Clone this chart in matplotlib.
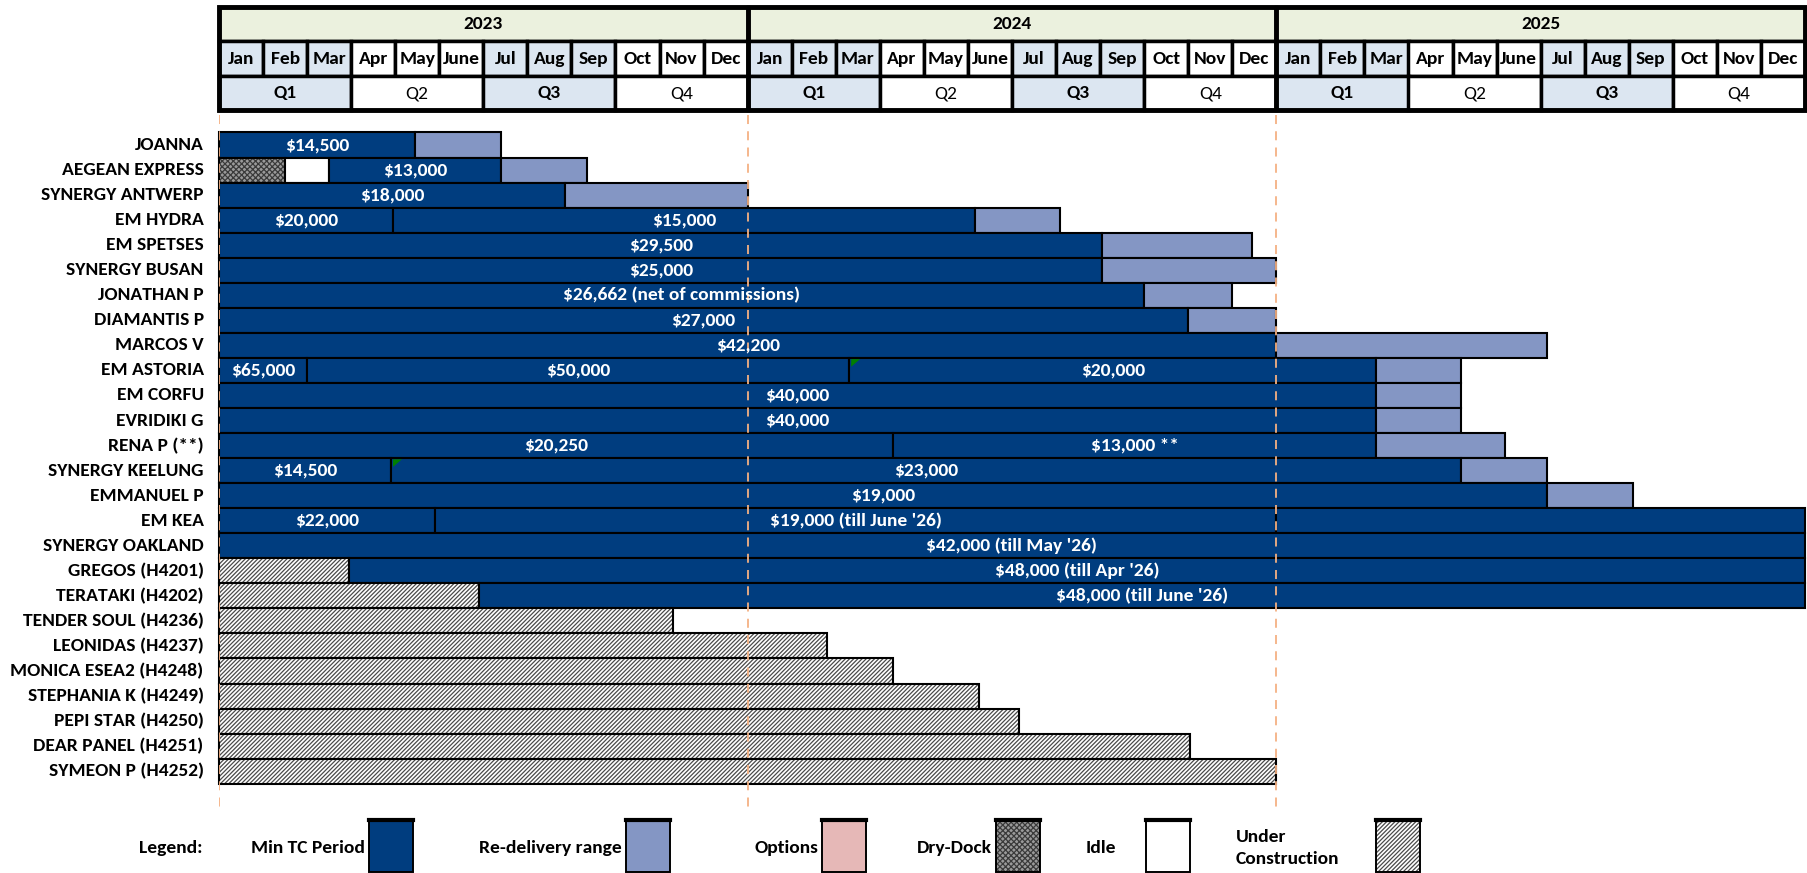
import matplotlib
matplotlib.use('Agg')
import matplotlib.pyplot as plt
from matplotlib.patches import Rectangle, Polygon

plt.rcParams['font.family'] = ['Carlito', 'Liberation Sans', 'DejaVu Sans']
plt.rcParams['hatch.linewidth'] = 0.9

# fleet employment, months counted from Jan 2023
ships = ["JOANNA", "AEGEAN EXPRESS", "SYNERGY ANTWERP", "EM HYDRA", "EM SPETSES",
         "SYNERGY BUSAN", "JONATHAN P", "DIAMANTIS P", "MARCOS V", "EM ASTORIA",
         "EM CORFU", "EVRIDIKI G", "RENA P (**)", "SYNERGY KEELUNG", "EMMANUEL P",
         "EM KEA", "SYNERGY OAKLAND", "GREGOS (H4201)", "TERATAKI (H4202)",
         "TENDER SOUL (H4236)", "LEONIDAS (H4237)", "MONICA ESEA2 (H4248)",
         "STEPHANIA K (H4249)", "PEPI STAR (H4250)", "DEAR PANEL (H4251)",
         "SYMEON P (H4252)"]

# (kind, start, end, rate text)
segments = [
    [("tc", 0, 4.45, "$14,500"), ("redel", 4.45, 6.4, "")],
    [("dd", 0, 1.5, ""), ("idle", 1.5, 2.5, ""), ("tc", 2.5, 6.4, "$13,000"), ("redel", 6.4, 8.35, "")],
    [("tc", 0, 7.85, "$18,000"), ("redel", 7.85, 12, "")],
    [("tc", 0, 3.95, "$20,000"), ("tc", 3.95, 17.15, "$15,000"), ("redel", 17.15, 19.1, "")],
    [("tc", 0, 20.05, "$29,500"), ("redel", 20.05, 23.45, "")],
    [("tc", 0, 20.05, "$25,000"), ("redel", 20.05, 24, "")],
    [("tc", 0, 21.0, "$26,662 (net of commissions)"), ("redel", 21.0, 23.0, "")],
    [("tc", 0, 22.0, "$27,000"), ("redel", 22.0, 24, "")],
    [("tc", 0, 24, "$42,200"), ("redel", 24, 30.15, "")],
    [("tc", 0, 2.0, "$65,000"), ("tc", 2.0, 14.3, "$50,000"), ("tc", 14.3, 26.27, "$20,000"), ("redel", 26.27, 28.2, "")],
    [("tc", 0, 26.27, "$40,000"), ("redel", 26.27, 28.2, "")],
    [("tc", 0, 26.27, "$40,000"), ("redel", 26.27, 28.2, "")],
    [("tc", 0, 15.3, "$20,250"), ("tc", 15.3, 26.27, "$13,000 **"), ("redel", 26.27, 29.2, "")],
    [("tc", 0, 3.9, "$14,500"), ("tc", 3.9, 28.2, "$23,000"), ("redel", 28.2, 30.15, "")],
    [("tc", 0, 30.15, "$19,000"), ("redel", 30.15, 32.1, "")],
    [("tc", 0, 4.9, "$22,000"), ("tc", 4.9, 24, "$19,000 (till June '26)"), ("tc", 24, 36, "")],
    [("tc", 0, 36, "$42,000 (till May '26)")],
    [("uc", 0, 2.95, ""), ("tc", 2.95, 36, "$48,000 (till Apr '26)")],
    [("uc", 0, 5.9, ""), ("tc", 5.9, 36, "$48,000 (till June '26)")],
    [("uc", 0, 10.3, "")],
    [("uc", 0, 13.8, "")],
    [("uc", 0, 15.3, "")],
    [("uc", 0, 17.25, "")],
    [("uc", 0, 18.15, "")],
    [("uc", 0, 22.05, "")],
    [("uc", 0, 24, "")],
]

# little green comment flags (row, month)
flags = [(9, 14.3), (13, 3.9)]

years = ["2023", "2024", "2025"]
months = ["Jan", "Feb", "Mar", "Apr", "May", "June", "Jul", "Aug", "Sep", "Oct", "Nov", "Dec"]
quarters = ["Q1", "Q2", "Q3", "Q4"]

legend_items = [("Min TC Period", "tc"), ("Re-delivery range", "redel"), ("Options", "opt"),
                ("Dry-Dock", "dd"), ("Idle", "idle"), ("Under\nConstruction", "uc")]

colors = {"tc": "#003D7F", "redel": "#8496C4", "opt": "#E6B8B7", "idle": "white",
          "dd": "#9a9a9a", "uc": "white"}
hatches = {"dd": "xxxxxx", "uc": "////////"}
hatch_col = {"dd": "#3a3a3a", "uc": "#4a4a4a"}
year_fill = "#EBF1DE"
q_fill = "#DCE6F1"
FS = 14


def box(ax, kind, x, y, w, h, lw=1.5, z=2):
    if kind in hatches:
        ax.add_patch(Rectangle((x, y), w, h, facecolor=colors[kind], edgecolor=hatch_col[kind],
                               hatch=hatches[kind], linewidth=0, zorder=z, clip_on=False))
        ax.add_patch(Rectangle((x, y), w, h, fill=False, edgecolor="black", linewidth=lw,
                               zorder=z, clip_on=False))
    else:
        ax.add_patch(Rectangle((x, y), w, h, facecolor=colors[kind], edgecolor="black",
                               linewidth=lw, zorder=z, clip_on=False))


fig = plt.figure(figsize=(18.08, 8.73), dpi=100)
ax = fig.add_axes([219 / 1808, 1 - 807 / 873, (1805 - 219) / 1808, (807 - 6) / 873])
ax.set_xlim(0, 36)
ax.set_ylim(26.43, -5.55)
ax.axis("off")

# header: years / months / quarters
for k, yr in enumerate(years):
    ax.add_patch(Rectangle((12 * k, -5.5), 12, 1.35, facecolor=year_fill, edgecolor="black",
                           linewidth=2.5, clip_on=False))
    ax.text(12 * k + 6, -4.82, yr, ha="center", va="center", fontsize=FS, fontweight="bold")
    for m, mon in enumerate(months):
        q = m // 3
        fc = q_fill if q in (0, 2) else "white"
        ax.add_patch(Rectangle((12 * k + m, -4.15), 1, 1.4, facecolor=fc, edgecolor="black",
                               linewidth=2.5, clip_on=False))
        ax.text(12 * k + m + 0.5, -3.45, mon, ha="center", va="center", fontsize=FS,
                fontweight="bold")
    for q, qn in enumerate(quarters):
        fc = q_fill if q in (0, 2) else "white"
        ax.add_patch(Rectangle((12 * k + 3 * q, -2.75), 3, 1.37, facecolor=fc, edgecolor="black",
                               linewidth=2.5, clip_on=False))
        ax.text(12 * k + 3 * q + 1.5, -2.06, qn, ha="center", va="center", fontsize=FS,
                fontweight="bold" if q in (0, 2) else "normal")
ax.add_patch(Rectangle((0, -5.5), 36, 4.12, fill=False, edgecolor="black", linewidth=3.5,
                       clip_on=False, zorder=3))
ax.vlines([12, 24], -5.5, -1.38, colors="black", linewidth=3.5, zorder=3)

# gantt rows
for i, (name, segs) in enumerate(zip(ships, segments)):
    ax.annotate(name, xy=(0, i), xycoords=("axes fraction", "data"), xytext=(-11, 0),
                textcoords="offset points", ha="right", va="center", fontsize=FS,
                fontweight="bold")
    for kind, s, e, rate in segs:
        box(ax, kind, s, i - 0.5, e - s, 1.0)
        if rate:
            ax.text((s + e) / 2, i, rate, ha="center", va="center", color="white",
                    fontsize=FS, fontweight="bold", zorder=5)

for row, m in flags:
    ax.add_patch(Polygon([(m + 0.05, row - 0.45), (m + 0.25, row - 0.45), (m + 0.05, row - 0.15)],
                         closed=True, facecolor="#008000", edgecolor="none", zorder=4))

ax.vlines([0, 12, 24], -1.2, 26.43, colors="#F4B183", linestyles=(0, (5, 4)), linewidth=1.3,
          zorder=4)

# legend strip
lax = fig.add_axes([0, 0, 1, 60 / 873])
lax.set_xlim(0, 1808)
lax.set_ylim(873, 813)
lax.axis("off")
lax.text(171, 848, "Legend:", ha="center", va="center", fontsize=FS, fontweight="bold")
sw_left = [369, 626, 822, 996, 1146, 1376]
for (lab, kind), x0 in zip(legend_items, sw_left):
    box(lax, kind, x0, 820, 44, 52, lw=1.4)
    lax.plot([x0, x0 + 44], [820, 820], color="black", linewidth=3, clip_on=False)
    if kind == "idle":
        lax.text(1101, 848, lab, ha="center", va="center", fontsize=FS, fontweight="bold")
    elif kind == "uc":
        lax.text(1236, 848, lab, ha="left", va="center", fontsize=FS, fontweight="bold",
                 linespacing=1.5)
    else:
        lax.text(x0 - 4, 848, lab, ha="right", va="center", fontsize=FS, fontweight="bold")

fig.savefig("out.png", dpi=100)
